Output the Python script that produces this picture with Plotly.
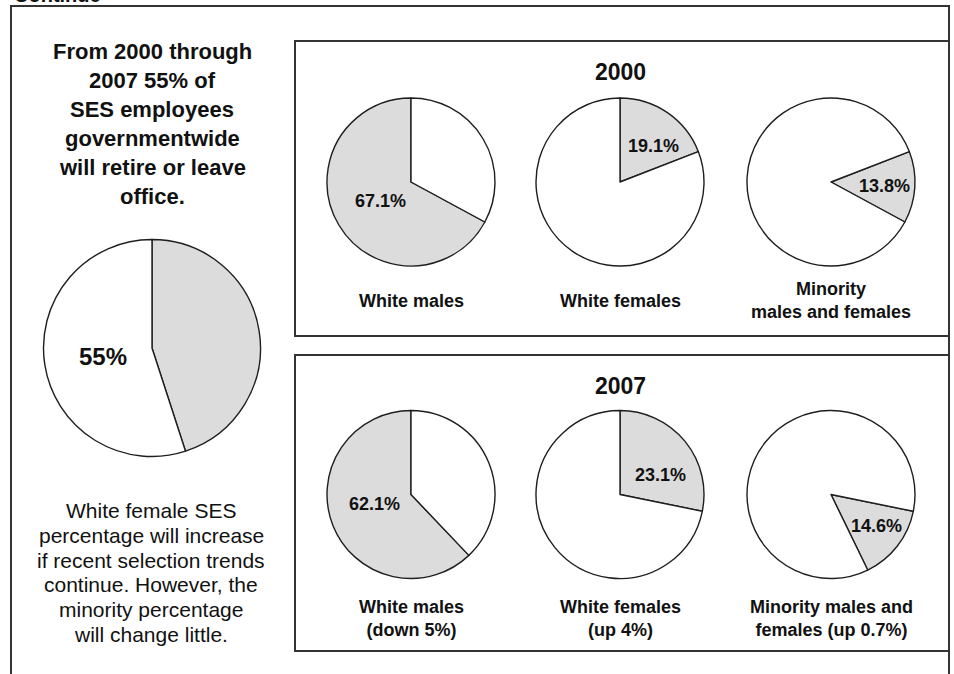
import plotly.graph_objects as go

W, H = 954, 674

# ------------------------------------------------------------------ data
years = ["2000", "2007"]
groups = ["White males", "White females", "Minority males and females"]

# printed shares of SES employees (%)
share_2000 = [67.1, 19.1, 13.8]
share_2007 = [62.1, 23.1, 14.6]

# highlighted wedge as drawn in the picture: start (% of circle, clockwise
# from 12 o'clock) and size (% of circle)
wedge_start_2000 = [32.9, 0.0, 19.1]
wedge_size_2000 = [67.1, 19.1, 13.8]
wedge_start_2007 = [37.9, 0.0, 28.2]
wedge_size_2007 = [62.1, 28.2, 14.6]

caption_2000 = ["White males", "White females", "Minority<br>males and females"]
caption_2007 = ["White males<br>(down 5%)", "White females<br>(up 4%)",
                "Minority males and<br>females (up 0.7%)"]

# governmentwide: share retiring / leaving vs. remaining
leave_pct = 55
remain_pct = 45

headline_lines = ["From 2000 through", "2007 55% of", "SES employees",
                  "governmentwide", "will retire or leave", "office."]
note_lines = ["White female SES", "percentage will increase",
              "if recent selection trends", "continue. However, the",
              "minority percentage", "will change little."]
corner_text = "Continue"

# ------------------------------------------------------------------ style / layout
FONT = "Liberation Sans, Arial, Helvetica, sans-serif"
GRAY = "#dcdcdc"
WHITE = "#ffffff"
EDGE = "#1e1e1e"
FRAME = "#333333"
TXT = "#111111"


def fx(px):
    return px / W


def fy(py):
    return 1 - py / H


fig = go.Figure()


def add_pie(cx, cy, r, highlight, rest, start_pct):
    fig.add_trace(go.Pie(
        values=[highlight, rest],
        marker=dict(colors=[GRAY, WHITE], line=dict(color=EDGE, width=1.4)),
        sort=False, direction="clockwise", rotation=start_pct * 3.6,
        textinfo="none", hoverinfo="skip", showlegend=False,
        domain=dict(x=[fx(cx - r), fx(cx + r)], y=[fy(cy + r), fy(cy - r)]),
    ))


annotations = []


def ann(text, x, y, size, bold=False, xanchor="center", yanchor="middle", yshift=0):
    annotations.append(dict(
        text=f"<b>{text}</b>" if bold else text,
        x=fx(x), y=fy(y), xref="paper", yref="paper",
        xanchor=xanchor, yanchor=yanchor, yshift=yshift,
        showarrow=False, align="center",
        font=dict(family=FONT, size=size, color=TXT),
    ))


# big governmentwide pie
add_pie(152, 348, 108.5, remain_pct, leave_pct, 0.0)
ann(f"{leave_pct}%", 103, 356, 24, bold=True)

# small pies
pie_cx = [411, 620, 831]
row_cy = [182, 494.5]
R = 84
label_xy = {
    "2000": [(380, 201.5), (653, 146), (884, 185.5)],
    "2007": [(374, 504), (660, 475), (876, 526)],
}
caption_y = {"2000": 300.5, "2007": 618}
title_y = {"2000": 72, "2007": 386}

rows = {
    "2000": (share_2000, wedge_start_2000, wedge_size_2000, caption_2000),
    "2007": (share_2007, wedge_start_2007, wedge_size_2007, caption_2007),
}

for ri, yr in enumerate(years):
    shares, starts, sizes, caps = rows[yr]
    cy = row_cy[ri]
    ann(yr, 620, title_y[yr], 23, bold=True)
    for gi in range(len(groups)):
        add_pie(pie_cx[gi], cy, R, sizes[gi], 100 - sizes[gi], starts[gi])
        lx, ly = label_xy[yr][gi]
        ann(f"{shares[gi]}%", lx, ly, 18, bold=True)
        ann(caps[gi], pie_cx[gi], caption_y[yr], 18, bold=True)

# left-hand texts
for i, line in enumerate(headline_lines):
    ann(line, 152, 51.5 + 28.9 * i, 22, bold=True)
for i, line in enumerate(note_lines):
    ann(line, 151, 510.5 + 24.8 * i, 21)

# cut-off heading at the very top
ann(corner_text, 12, 0, 20, bold=True, xanchor="left", yanchor="bottom", yshift=-8)

shapes = [
    # outer frame (continues past the bottom edge)
    dict(type="rect", xref="paper", yref="paper",
         x0=fx(11), x1=fx(949), y0=fy(6), y1=fy(700),
         line=dict(color=FRAME, width=2), fillcolor="rgba(0,0,0,0)", layer="below"),
    # 2000 box
    dict(type="rect", xref="paper", yref="paper",
         x0=fx(295), x1=fx(949), y0=fy(41), y1=fy(336),
         line=dict(color=FRAME, width=2), fillcolor="rgba(0,0,0,0)", layer="below"),
    # 2007 box
    dict(type="rect", xref="paper", yref="paper",
         x0=fx(295), x1=fx(949), y0=fy(355), y1=fy(651),
         line=dict(color=FRAME, width=2), fillcolor="rgba(0,0,0,0)", layer="below"),
]

fig.update_layout(
    width=W, height=H, autosize=False,
    margin=dict(l=0, r=0, t=0, b=0),
    paper_bgcolor="white", plot_bgcolor="white",
    annotations=annotations, shapes=shapes,
    showlegend=False,
    font=dict(family=FONT, color=TXT),
)

fig.write_html("out.html", config={"displayModeBar": False})
